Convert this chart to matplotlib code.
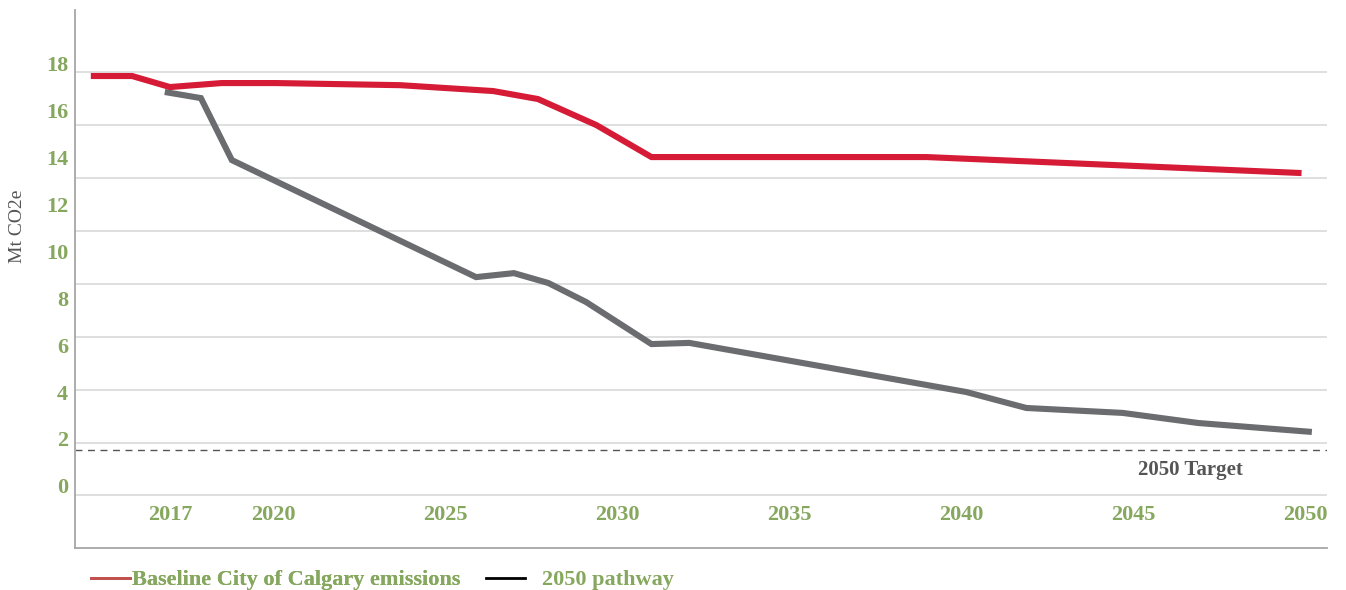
import matplotlib
matplotlib.use("Agg")
import matplotlib.pyplot as plt
from matplotlib.lines import Line2D

# ---------------- data ----------------
baseline_years = [2014.7, 2015.9, 2017.0, 2018.5, 2020.1, 2023.7, 2026.4, 2027.7,
                  2029.4, 2031.0, 2039.0, 2049.9]
baseline_vals = [17.45, 17.45, 16.98, 17.15, 17.15, 17.06, 16.81, 16.47,
                 15.36, 14.0, 14.0, 13.32]

pathway_years = [2016.85, 2017.9, 2018.8, 2025.9, 2027.0, 2028.0, 2029.1, 2031.0,
                 2032.1, 2040.15, 2041.9, 2044.7, 2046.9, 2050.2]
pathway_vals = [16.77, 16.51, 13.87, 8.89, 9.06, 8.64, 7.83, 6.04,
                6.09, 4.0, 3.32, 3.11, 2.68, 2.30]

target_value = 1.53
target_label = "2050 Target"

x_tick_years = [2017, 2020, 2025, 2030, 2035, 2040, 2045, 2050]
y_tick_vals = [0, 2, 4, 6, 8, 10, 12, 14, 16, 18]
grid_levels = [17.6, 15.35, 13.1, 10.85, 8.6, 6.35, 4.1, 1.85, -0.4]

y_label = "Mt CO2e"
legend_labels = ["Baseline City of Calgary emissions", "2050 pathway"]

# ---------------- style ----------------
GREEN = "#86a75e"
RED = "#d51b36"
GRAY = "#6b6c70"
DARK = "#555555"
SERIF = "Liberation Serif"

fig = plt.figure(figsize=(13.46, 5.90), dpi=100)
ax = fig.add_axes([75 / 1346, (590 - 548) / 590, (1327 - 75) / 1346, (548 - 10) / 590])

ax.set_xlim(2014.24, 2050.64)
ax.set_ylim(-2.64, 20.26)

for g in grid_levels:
    ax.axhline(g, color="#d9d9d9", lw=1.2, zorder=1)

ax.axhline(target_value, color=DARK, lw=1.0, ls=(0, (5, 4)), zorder=2)

ax.plot(baseline_years, baseline_vals, color=RED, lw=4.4, solid_joinstyle="miter",
        solid_capstyle="butt", zorder=4)
ax.plot(pathway_years, pathway_vals, color=GRAY, lw=4.4, solid_joinstyle="miter",
        solid_capstyle="butt", zorder=3)

ax.text(2046.68, 0.7, target_label, color=DARK, fontsize=15, fontweight="bold",
        family=SERIF, ha="center", va="center")

for s in ["top", "right"]:
    ax.spines[s].set_visible(False)
for s in ["left", "bottom"]:
    ax.spines[s].set_color("#a6a6a6")
    ax.spines[s].set_linewidth(1.3)

ax.set_yticks(y_tick_vals)
ax.set_yticklabels([str(v) for v in y_tick_vals], family=SERIF, fontweight="bold",
                   fontsize=16, color=GREEN)
ax.tick_params(axis="y", length=0, pad=5)

ax.set_xticks([])
for yr in x_tick_years:
    ax.text(yr, -1.23, str(yr), family=SERIF, fontweight="bold", fontsize=16,
            color=GREEN, ha="center", va="center")

fig.text(18 / 1346, 1 - 226 / 590, y_label, rotation=90, family=SERIF, fontsize=14,
         color=DARK, ha="center", va="center")

legprop = {"family": SERIF, "weight": "bold", "size": 16}
leg1 = fig.legend([Line2D([], [], color="#c0504d", lw=2)], [legend_labels[0]],
                  loc="center left", bbox_to_anchor=(71 / 1346, 1 - 580 / 590),
                  frameon=False, prop=legprop, handlelength=1.75, handletextpad=0.1)
leg2 = fig.legend([Line2D([], [], color="black", lw=2)], [legend_labels[1]],
                  loc="center left", bbox_to_anchor=(466 / 1346, 1 - 580 / 590),
                  frameon=False, prop=legprop, handlelength=1.75, handletextpad=0.75)
fig.add_artist(leg1)
for leg in (leg1, leg2):
    for t in leg.get_texts():
        t.set_color(GREEN)

fig.savefig("out.png", dpi=100)
